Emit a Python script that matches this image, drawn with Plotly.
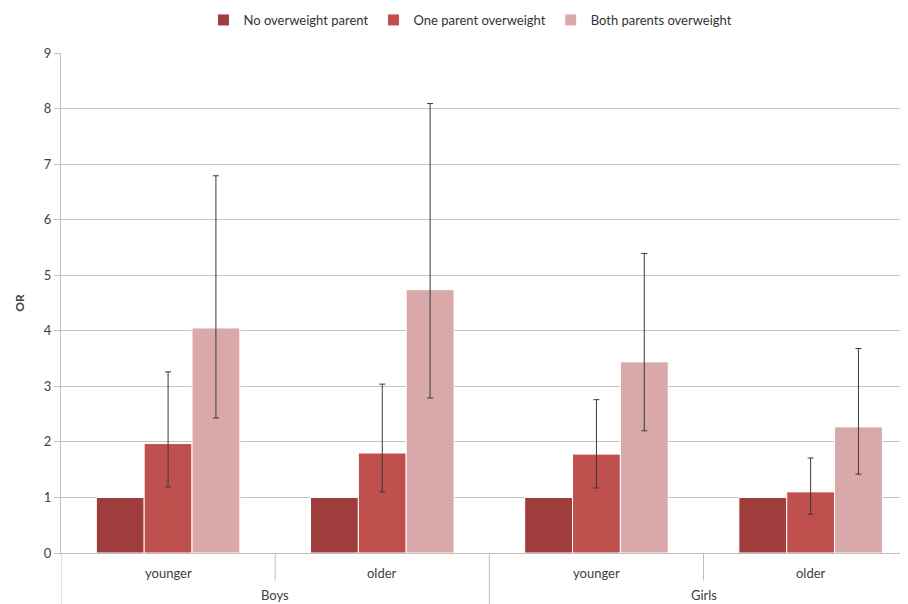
import plotly.graph_objects as go

groups = ["Boys", "Boys", "Girls", "Girls"]
subgroups = ["younger", "older", "younger", "older"]
series_names = ["No overweight parent", "One parent overweight", "Both parents overweight"]
colors = ["#9E3D3C", "#C0504D", "#D9A9A9"]

no_ow = [1.0, 1.0, 1.0, 1.0]
one_ow = [1.97, 1.80, 1.78, 1.10]
one_up = [3.26, 3.04, 2.76, 1.71]
one_lo = [1.19, 1.10, 1.17, 0.70]
both_ow = [4.05, 4.74, 3.44, 2.27]
both_up = [6.79, 8.09, 5.39, 3.68]
both_lo = [2.43, 2.79, 2.20, 1.42]

yticks = [0, 1, 2, 3, 4, 5, 6, 7, 8, 9]
xpos = list(range(len(subgroups)))

fig = go.Figure()
font = "Lato, 'Open Sans', sans-serif"

fig.add_trace(go.Bar(x=xpos, y=no_ow, name=series_names[0],
                     marker=dict(color=colors[0], line=dict(color="white", width=1))))
fig.add_trace(go.Bar(x=xpos, y=one_ow, name=series_names[1],
                     marker=dict(color=colors[1], line=dict(color="white", width=1)),
                     error_y=dict(type="data", symmetric=False,
                                  array=[u - v for u, v in zip(one_up, one_ow)],
                                  arrayminus=[v - l for v, l in zip(one_ow, one_lo)],
                                  color="#3a3a3a", thickness=1, width=3)))
fig.add_trace(go.Bar(x=xpos, y=both_ow, name=series_names[2],
                     marker=dict(color=colors[2], line=dict(color="white", width=1)),
                     error_y=dict(type="data", symmetric=False,
                                  array=[u - v for u, v in zip(both_up, both_ow)],
                                  arrayminus=[v - l for v, l in zip(both_ow, both_lo)],
                                  color="#3a3a3a", thickness=1, width=3)))

# sub-category labels
for xi, s in zip(xpos, subgroups):
    fig.add_annotation(x=xi, y=-0.04, xref="x", yref="paper", text=s, showarrow=False,
                       yanchor="middle", font=dict(size=13, color="#404040", family=font))
# group labels
seen = []
for g in groups:
    if g not in seen:
        seen.append(g)
for g in seen:
    idx = [i for i, gg in enumerate(groups) if gg == g]
    fig.add_annotation(x=sum(idx) / len(idx), y=-0.084, xref="x", yref="paper", text=g,
                       showarrow=False, yanchor="middle",
                       font=dict(size=13, color="#404040", family=font))

# dividers
for i in range(len(subgroups) + 1):
    xb = i - 0.5
    long_div = i == 0 or i == len(subgroups) or groups[i] != groups[i - 1]
    fig.add_shape(type="line", xref="x", yref="paper", x0=xb, x1=xb, y0=0,
                  y1=-0.11 if long_div else -0.055,
                  line=dict(color="#BFBFBF", width=1))

fig.update_layout(
    width=900, height=596,
    margin=dict(l=53, r=1, t=45, b=51, autoexpand=False),
    paper_bgcolor="white", plot_bgcolor="white",
    barmode="group", bargap=0.33, bargroupgap=0,
    font=dict(family=font, color="#404040"),
    legend=dict(orientation="h", x=0.484, xanchor="center", y=1.066, yanchor="middle",
                font=dict(size=13, color="#333333", family=font),
                itemwidth=30, tracegroupgap=0),
    showlegend=True,
)
fig.update_xaxes(range=[-0.5, 3.45], showticklabels=False, showgrid=False,
                 showline=True, linecolor="#BFBFBF", linewidth=1, zeroline=False,
                 fixedrange=True)
fig.update_yaxes(range=[0, 9], tickvals=yticks, showgrid=True, gridcolor="#C4C4C4",
                 gridwidth=1, showline=True, linecolor="#BFBFBF", linewidth=1,
                 ticks="outside", ticklen=6, tickcolor="#BFBFBF", zeroline=False,
                 automargin=False,
                 tickfont=dict(size=13, color="#404040"),
                 title=dict(text="<b>OR</b>", font=dict(size=12, color="#404040"), standoff=16))

fig.write_html("out.html")
